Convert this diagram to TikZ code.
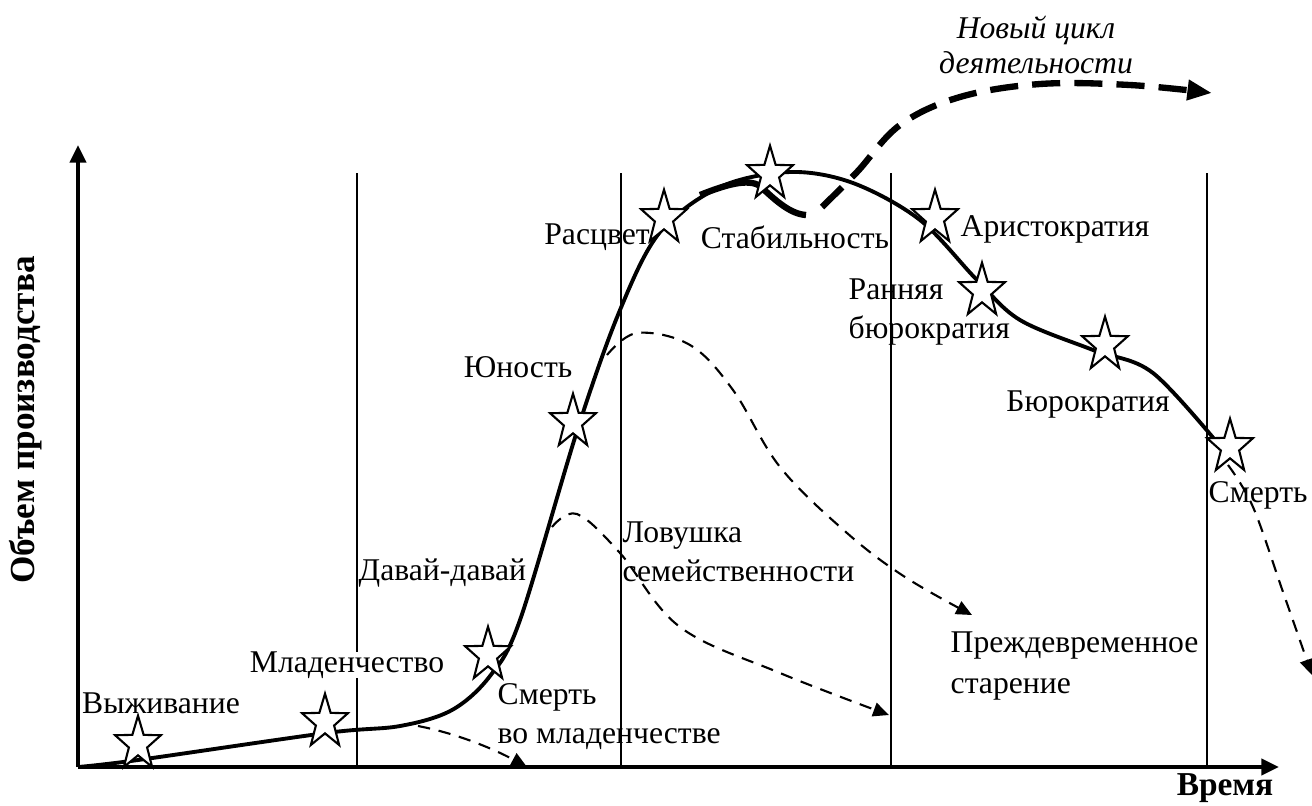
\documentclass[tikz,border=0pt]{standalone}
\usepackage{fontspec}
\setmainfont{Liberation Serif}
\usetikzlibrary{shapes.geometric,arrows.meta}

\begin{document}
\begin{tikzpicture}[x=0.01cm,y=-0.01cm,
    stage/.style={star,star points=5,star point ratio=2.5,draw,fill=white,
      inner sep=0pt,minimum size=0.48cm,yscale=1.18,line width=0.6pt},
    lbl/.style={font=\fontsize{9}{11.1}\selectfont,inner sep=0pt,align=left},
    axis/.style={line width=1.2pt,-{Triangle[length=5pt,width=4.5pt]}},
    trap/.style={line width=0.6pt,dash pattern=on 3.5pt off 2.5pt,
      -{Triangle[length=4.5pt,width=4pt]}}]
  \useasboundingbox (0,0) rectangle (1312,805);
  % axes
  \coordinate (o) at (78,767);
  \coordinate (ytip) at (78,145);
  \coordinate (xtip) at (1279,767);
  \draw[axis] (o) -- (ytip);
  \draw[axis] (o) -- (xtip);
  \node[lbl,font=\fontsize{10}{12}\bfseries,rotate=90] (ylab) at (26,420) {Объем производства};
  \node[lbl,font=\fontsize{9.5}{11}\bfseries] (xlab) at (1225,788) {Время};
  % stage borders
  \foreach \x in {357,621,891,1207}
    \draw[line width=0.5pt] (\x,173) -- (\x,767);
  % life cycle
  \draw[line width=1.1pt] plot[smooth,tension=0.55] coordinates {
    (o) (138,760) (326,733) (400,726) (452,710) (490,676) (520,620)
    (578,428) (620,310) (660,232) (720,187) (790,172) (853,183) (920,220)
    (977,280) (1020,320) (1093,350) (1153,373) (1225,452)};
  % new cycle
  \coordinate (nc0) at (700,195);
  \coordinate (nc1) at (806,215);
  \draw[line width=1.8pt] (nc0) .. controls (725,185) and (748,178) .. (760,186)
    .. controls (775,200) and (790,214) .. (nc1);
  \draw[line width=1.8pt,dash pattern=on 8pt off 4pt,-{Triangle[length=7pt,width=5.5pt]}]
    plot[smooth,tension=0.6] coordinates {(822,207) (857,172) (900,125) (960,97)
    (1040,84) (1130,85) (1212,93)};
  % stages
  \node[stage] (surv) at (138,744) {};
  \node[stage] (inf) at (325,722) {};
  \node[stage] (gogo) at (488,655) {};
  \node[stage] (youth) at (573,422) {};
  \node[stage] (prime) at (664,218) {};
  \node[stage] (stab) at (770,174) {};
  \node[stage] (arist) at (935,218) {};
  \node[stage] (ebur) at (982,291) {};
  \node[stage] (bur) at (1105,345) {};
  \node[stage] (death) at (1230,447) {};
  % traps
  \coordinate (t1) at (418,726);
  \coordinate (t1e) at (527,767);
  \draw[trap] (t1) .. controls (455,733) and (492,748) .. (t1e);
  \draw[trap] plot[smooth,tension=0.6] coordinates {(552,527) (577,514) (620,553)
    (680,627) (780,673) (889,715)};
  \draw[trap] plot[smooth,tension=0.6] coordinates {(607,355) (637,333) (690,345)
    (733,390) (780,467) (847,533) (905,577) (972,615)};
  \draw[trap] plot[smooth,tension=0.6] coordinates {(1228,465) (1253,507)
    (1283,592) (1312,675)};
  % labels
  \node[lbl] (lsurv) at (161,703) {Выживание};
  \node[lbl,fill=white] (linf) at (347,665) {Младенчество};
  \node[lbl,anchor=west] (lgogo) at (358,573) {Давай-давай};
  \node[lbl,anchor=east] (lyouth) at (573,367) {Юность};
  \node[lbl] (lprime) at (597,237) {Расцвет};
  \node[lbl] (lstab) at (795,237) {Стабильность};
  \node[lbl,anchor=west] (larist) at (960,229) {Аристократия};
  \node[lbl,anchor=west] (lebur) at (848,312) {Ранняя\\бюрократия};
  \node[lbl] (lbur) at (1088,404) {Бюрократия};
  \node[lbl,anchor=west] (ldeath) at (1208,495) {Смерть};
  \node[lbl,anchor=west] (linfd) at (497,717) {Смерть\\во младенчестве};
  \node[lbl,anchor=west] (lfam) at (622,552) {Ловушка\\семейственности};
  \node[lbl,anchor=west,font=\fontsize{9}{11.6}\selectfont] (lpre) at (950,666)
    {Преждевременное\\старение};
  \node[lbl,align=center,font=\fontsize{9}{10}\itshape] (lnew) at (1036,45)
    {Новый цикл\\деятельности};
\end{tikzpicture}
\end{document}
